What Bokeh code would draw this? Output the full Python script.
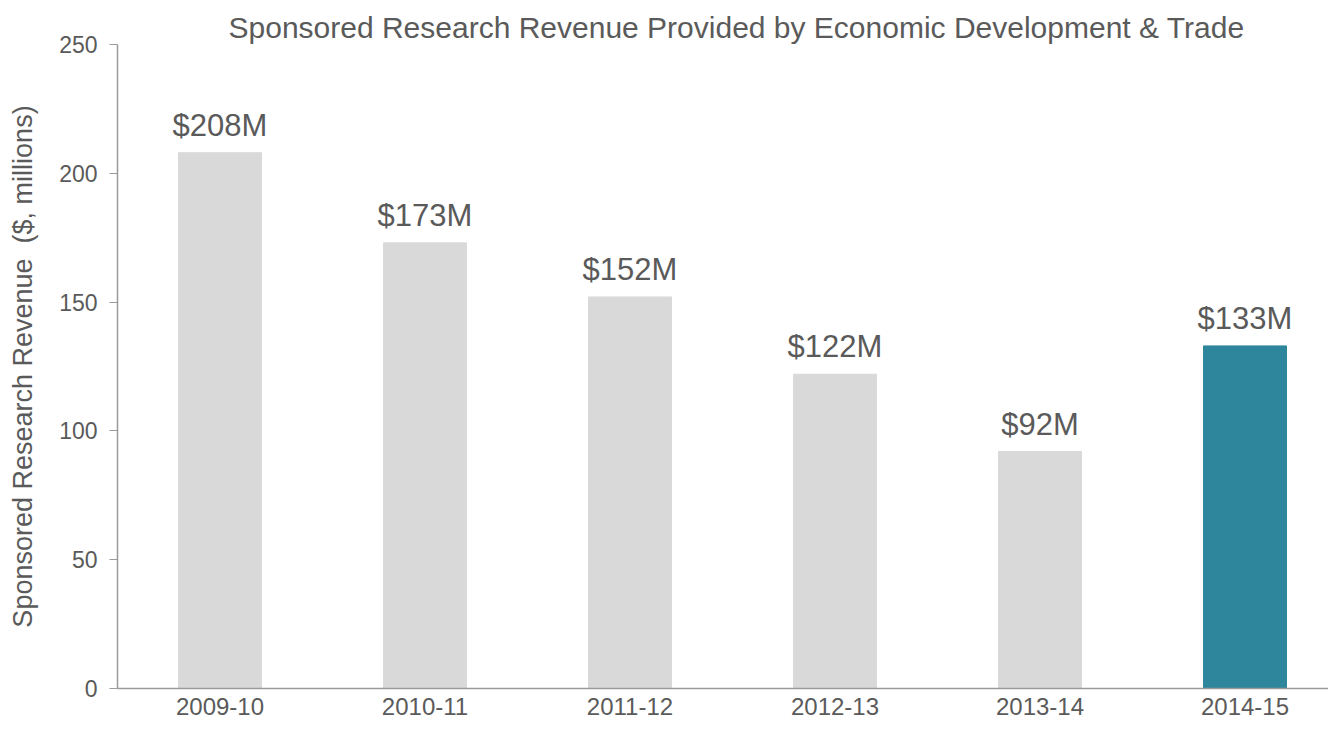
from bokeh.plotting import figure
from bokeh.models import ColumnDataSource, Range1d, Title, FixedTicker
from bokeh.embed import file_html
from bokeh.resources import INLINE
from bokeh.core.properties import value

years = ["2009-10", "2010-11", "2011-12", "2012-13", "2013-14", "2014-15"]
revenue = [208, 173, 152, 122, 92, 133]
labels = ["$208M", "$173M", "$152M", "$122M", "$92M", "$133M"]
colors = ["#d9d9d9", "#d9d9d9", "#d9d9d9", "#d9d9d9", "#d9d9d9", "#2e869c"]
y_ticks = [0, 50, 100, 150, 200, 250]

FONT = "Liberation Sans"
TXT = "#5a5a5a"

xpos = [i + 0.5 for i in range(len(years))]
src = ColumnDataSource(dict(x=xpos, top=revenue, label=labels, color=colors))

W, H = 1328, 726
LEFT, TOP, BOTTOM = 117, 44, 38
cat_px = 205.0
x_end = (W - LEFT) / cat_px

p = figure(width=W, height=H, output_backend="svg", toolbar_location=None,
           x_range=Range1d(0, x_end), y_range=Range1d(0, 250),
           min_border_left=LEFT, min_border_right=0, min_border_top=TOP,
           min_border_bottom=BOTTOM)

p.title = Title(text="Sponsored Research Revenue Provided by Economic Development & Trade",
                align="left", text_font=FONT, text_font_size="30px",
                text_font_style="normal", text_color=TXT, standoff=2, offset=111)

p.vbar(x="x", top="top", width=0.405, color="color", source=src)
p.text(x="x", y="top", text="label", source=src, text_align="center",
       text_baseline="bottom", y_offset=-10, text_font=value(FONT),
       text_font_size="31px", text_color=TXT)

p.outline_line_color = None
p.xgrid.grid_line_color = None
p.ygrid.grid_line_color = None
p.background_fill_color = "white"
p.border_fill_color = "white"

p.yaxis.ticker = FixedTicker(ticks=y_ticks)
p.xaxis.ticker = FixedTicker(ticks=xpos)
p.xaxis.major_label_overrides = {x: y for x, y in zip(xpos, years)}

p.yaxis.axis_label = "Sponsored Research Revenue \u00a0($, millions)"
p.yaxis.axis_label_text_font = FONT
p.yaxis.axis_label_text_font_size = "27px"
p.yaxis.axis_label_text_font_style = "normal"
p.yaxis.axis_label_text_color = TXT
p.yaxis.axis_label_standoff = 18

for ax in (p.xaxis[0], p.yaxis[0]):
    ax.axis_line_color = "#9a9a9a"
    ax.axis_line_width = 1.5
    ax.major_label_text_font = FONT
    ax.major_label_text_color = TXT
    ax.minor_tick_line_color = None

p.yaxis.major_label_text_font_size = "23px"
p.yaxis.major_label_standoff = 12
p.yaxis.major_tick_line_color = "#9a9a9a"
p.yaxis.major_tick_out = 8
p.yaxis.major_tick_in = 0

p.xaxis.major_label_text_font_size = "24px"
p.xaxis.major_label_standoff = 9
p.xaxis.major_tick_line_color = None
p.xaxis.major_tick_out = 0
p.xaxis.major_tick_in = 0

open("out.html", "w").write(file_html(p, INLINE))
